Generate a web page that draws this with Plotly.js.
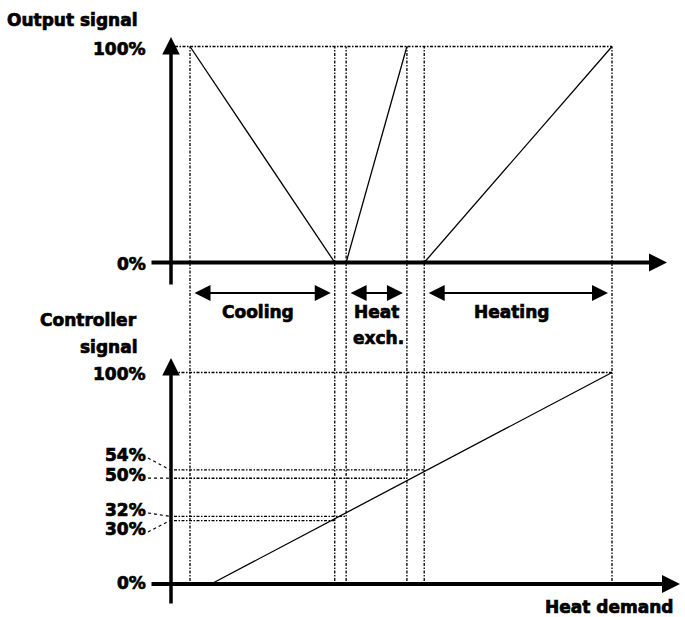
<!DOCTYPE html>
<html>
<head>
<meta charset="utf-8">
<script src="https://cdn.plot.ly/plotly-3.0.1.min.js"></script>
<style>
html,body{margin:0;padding:0;background:#fff;}
#chart{width:685px;height:617px;}
#chart .annotation-text{stroke:#000;stroke-width:0.7px;}
</style>
</head>
<body>
<div id="chart"></div>
<script>
// ---------------- data ----------------
// heat demand, in % of the span drawn (0 = start of cooling, 100 = end of heating)
const zoneNames  = ['Cooling', 'Heat', 'Heating'];
const zoneStart  = [0, 37, 55.5];
const zoneEnd    = [34.3, 51.4, 100];
const boundaries = [0, 34.3, 37, 51.4, 55.5, 100];

// output signal (top panel)
const coolingX  = [0, 34.3];   const coolingY  = [100, 0];
const heatExchX = [37, 51.4];  const heatExchY = [0, 100];
const heatingX  = [55.5, 100]; const heatingY  = [0, 100];
const outputTickVals = [100, 0];
const outputTickText = ['100%', '0%'];

// controller signal (bottom panel)
const controllerX = [5, 100];
const controllerY = [0, 100];
const controllerTickVals = [100, 54, 50, 32, 30, 0];
const controllerTickText = ['100%', '54%', '50%', '32%', '30%', '0%'];
const controllerLevelVals = [100, 54, 50, 32, 30];     // dotted reference levels
const controllerLevelEnds = [100, 55.5, 51.4, 37, 34.3]; // heat demand where each level meets the line

// ---------------- layout geometry (pixels) ----------------
const W = 685, H = 617;
const X0PX = 190, X100PX = 612;
const TOP0 = 262.5, TOP100 = 46.5;
const BOT0 = 584, BOT100 = 372.5;
const sx = (X100PX - X0PX) / 100;
const xRange = [-X0PX / sx, (W - X0PX) / sx];
function yRange(p0, p100) { const s = (p0 - p100) / 100; const top = 100 + p100 / s; return [top - H / s, top]; }
const pxX = v => v / W;
const pxY = v => 1 - v / H;
const xFromPx = p => (p - X0PX) / sx;
const botPx = v => BOT0 - v * (BOT0 - BOT100) / 100;

const FONT = {family: 'DejaVu Sans', size: 17, color: '#000', weight: 'bold'};
const DOT = '3px,1.5px,1.5px,1.5px';
const lineStyle = {color: '#000', width: 1.3};
const dotStyle = {color: '#000', width: 1.3, dash: DOT};

const traces = [];
function seg(x, y, yaxis, line) {
  traces.push({type: 'scatter', mode: 'lines', x: x, y: y, yaxis: yaxis, line: line, hoverinfo: 'skip', showlegend: false});
}
// reference levels
seg([xFromPx(175), 100], [100, 100], 'y', dotStyle);
controllerLevelVals.forEach((v, i) => seg([xFromPx(174), controllerLevelEnds[i]], [v, v], 'y2', dotStyle));
// signals
seg(coolingX, coolingY, 'y', lineStyle);
seg(heatExchX, heatExchY, 'y', lineStyle);
seg(heatingX, heatingY, 'y', lineStyle);
seg(controllerX, controllerY, 'y2', lineStyle);

const shapes = boundaries.map(b => ({type: 'line', xref: 'x', yref: 'paper', x0: b, x1: b,
  y0: pxY(581), y1: pxY(TOP100), line: {color: '#000', width: 1.3, dash: DOT}}));

// leader lines from labels to the levels
const labelShift = [-1.5, 14.8, 3.2, 6.3, -8.4, 1];   // px, label centre above(+)/below(-) its level
controllerTickVals.forEach((v, i) => {
  if (v === 0 || v === 100) return;
  const ly = botPx(v) - labelShift[i];
  shapes.push({type: 'line', xref: 'paper', yref: 'paper', x0: pxX(148), y0: pxY(ly + 3),
    x1: pxX(170), y1: pxY(botPx(v)), line: {color: '#000', width: 1.2, dash: 'dot'}});
});

const annotations = [];
function arrow(hx, hy, tx, ty, w, size) {
  annotations.push({xref: 'paper', yref: 'paper', x: pxX(hx), y: pxY(hy), ax: tx - hx, ay: ty - hy,
    axref: 'pixel', ayref: 'pixel', text: '', showarrow: true, arrowhead: 2, arrowwidth: w,
    arrowsize: size, arrowcolor: '#000', standoff: 0});
}
arrow(171, 37, 171, 286, 3.5, 1.0);   // top y axis
arrow(667, TOP0, 150, TOP0, 4, 0.9);  // top x axis
arrow(171, 358, 171, 605, 3.5, 1.0);  // bottom y axis
arrow(680, BOT0, 150, BOT0, 4, 0.9);  // bottom x axis

// zone arrows
zoneStart.forEach((s, i) => {
  annotations.push({xref: 'x', yref: 'paper', x: zoneEnd[i], y: pxY(293), axref: 'x', ax: s,
    ayref: 'pixel', ay: 0, text: '', showarrow: true, arrowhead: 2, arrowside: 'end+start',
    arrowwidth: 2, arrowsize: 1.6, arrowcolor: '#000', standoff: 4, startstandoff: 3});
});
function label(text, x, y, xanchor, yref, yshift) {
  annotations.push({text: text, xref: 'paper', yref: yref || 'paper', x: x, y: y, xanchor: xanchor,
    yanchor: 'middle', showarrow: false, font: FONT, yshift: yshift || 0, borderpad: 0});
}
const zoneLabelX = [258, 376.5, 511];
zoneNames.forEach((n, i) => label(n, pxX(zoneLabelX[i]), pxY(312), 'center'));
label('exch.', pxX(378), pxY(338), 'center');

label('Output signal', pxX(139), pxY(20), 'right');
label('Controller', pxX(138), pxY(320), 'right');
label('signal', pxX(139), pxY(347), 'right');
label('Heat demand', pxX(674), pxY(607), 'right');

const outShift = [-2.5, -1.5];
outputTickVals.forEach((v, i) => label(outputTickText[i], pxX(147), v, 'right', 'y', outShift[i]));
controllerTickVals.forEach((v, i) => label(controllerTickText[i], pxX(147), v, 'right', 'y2', labelShift[i]));

const hidden = {visible: false, showgrid: false, zeroline: false, fixedrange: true};
const layout = {
  width: W, height: H, autosize: false,
  margin: {l: 0, r: 0, t: 0, b: 0, pad: 0},
  paper_bgcolor: '#fff', plot_bgcolor: '#fff',
  showlegend: false,
  xaxis: Object.assign({range: xRange}, hidden),
  yaxis: Object.assign({range: yRange(TOP0, TOP100)}, hidden),
  yaxis2: Object.assign({range: yRange(BOT0, BOT100), overlaying: 'y', anchor: 'x'}, hidden),
  shapes: shapes,
  annotations: annotations,
  font: FONT
};
Plotly.newPlot('chart', traces, layout, {staticPlot: true, displayModeBar: false});
</script>
</body>
</html>
